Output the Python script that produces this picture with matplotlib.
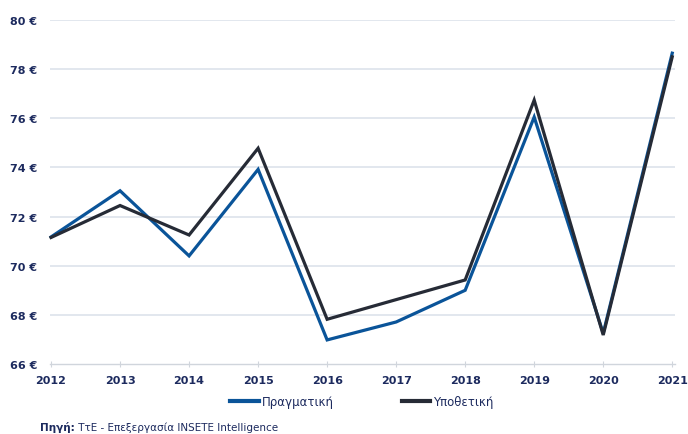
import matplotlib
matplotlib.use("Agg")
import matplotlib.pyplot as plt
from matplotlib.lines import Line2D

years = [2012, 2013, 2014, 2015, 2016, 2017, 2018, 2019, 2020, 2021]
actual = [71.17, 73.05, 70.4, 73.92, 66.98, 67.71, 69.0, 76.05, 67.25, 78.65]
hypothetical = [71.15, 72.45, 71.25, 74.78, 67.82, 68.62, 69.42, 76.74, 67.18, 78.5]
yticks = [66, 68, 70, 72, 74, 76, 78, 80]
labels = ["Πραγματική", "Υποθετική"]
source_bold = "Πηγή:"
source_rest = " ΤτΕ - Επεξεργασία INSETE Intelligence"

BLUE = "#0a5499"
DARK = "#262b36"
NAVY = "#1c2a5e"
GRID = "#dde3eb"

W, H = 688, 435
fig = plt.figure(figsize=(W / 100, H / 100), dpi=100)
ax = fig.add_axes([50 / W, 70 / H, (675 - 50) / W, (414 - 70) / H])

ax.plot(years, actual, color=BLUE, lw=2.3, clip_on=False, solid_joinstyle="miter", zorder=3)
ax.plot(years, hypothetical, color=DARK, lw=2.3, clip_on=False, solid_joinstyle="miter", zorder=4)

ax.set_ylim(66, 80)
ax.set_xlim(2011.985, 2021.04)
ax.set_yticks(yticks)
ax.set_yticklabels([f"{v} €" for v in yticks])
ax.set_xticks(years)
ax.set_xticklabels([str(y) for y in years])

for v in yticks[1:]:
    ax.axhline(v, color=GRID, lw=1.2, zorder=1)

for s in ["top", "right", "left"]:
    ax.spines[s].set_visible(False)
ax.spines["bottom"].set_color("#d0d5dc")
ax.spines["bottom"].set_linewidth(1.0)

ax.tick_params(axis="y", length=0, pad=9, labelsize=8, labelcolor=NAVY)
ax.tick_params(axis="x", length=4, direction="inout", color="#d0d5dc", pad=6, labelsize=8, labelcolor=NAVY)
for t in ax.get_xticklabels() + ax.get_yticklabels():
    t.set_fontweight("bold")

handles = [Line2D([], [], color=BLUE, lw=3), Line2D([], [], color=DARK, lw=3)]
leg = fig.legend(handles, labels, loc="center", bbox_to_anchor=(362 / W, 1 - 403 / H), ncol=2,
                 frameon=False, handlelength=2.4, handletextpad=0.25, columnspacing=5.8,
                 fontsize=8.5)
for t in leg.get_texts():
    t.set_color(NAVY)

t1 = fig.text(40 / W, 1 - 428 / H, source_bold, fontsize=7.5, fontweight="bold", color=NAVY, va="center", ha="left")
fig.canvas.draw()
bb = t1.get_window_extent()
fig.text(bb.x1 / W, 1 - 428 / H, source_rest, fontsize=7.5, color=NAVY, va="center", ha="left")

fig.savefig("out.png", dpi=100)
